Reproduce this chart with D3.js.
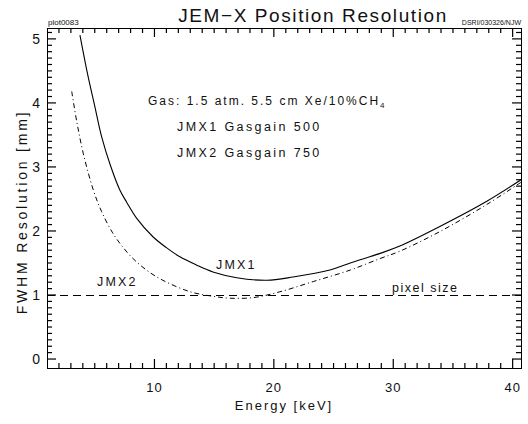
<!DOCTYPE html>
<html>
<head>
<meta charset="utf-8">
<script src="https://cdn.jsdelivr.net/npm/d3@7"></script>
<style>
  body { margin: 0; background: #fff; }
  svg text { font-family: "Liberation Sans", Arial, sans-serif; fill: #111; }
</style>
</head>
<body>
<svg id="chart" width="528" height="424"></svg>
<script>
// Energy [keV] and FWHM resolution [mm]
const jmx1Energy = [3.76, 4.4, 5.0, 5.58, 6.3, 7.1, 7.67, 8.5, 9.87, 11.0, 12.1, 13.5, 14.9, 16.9, 19.4, 21.6, 24.7, 26.4, 28.9, 30.5, 33.9, 37.8, 40.7];
const jmx1Res    = [5.06, 4.45, 3.95, 3.47, 3.03, 2.64, 2.45, 2.2, 1.91, 1.74, 1.60, 1.47, 1.36, 1.27, 1.23, 1.28, 1.39, 1.50, 1.65, 1.76, 2.07, 2.46, 2.8];

const jmx2Energy = [3.07, 3.5, 4.04, 4.88, 5.58, 6.5, 7.3, 8.2, 9.4, 10.7, 13.0, 14.9, 16.3, 18.3, 20.5, 23.3, 26.4, 28.9, 30.5, 33.9, 37.8, 40.7];
const jmx2Res    = [4.18, 3.7, 3.21, 2.64, 2.3, 1.97, 1.76, 1.57, 1.38, 1.23, 1.05, 0.98, 0.95, 0.96, 1.05, 1.21, 1.39, 1.57, 1.68, 1.99, 2.41, 2.76];

const pixelSize = 1;
const xTicks = [10, 20, 30, 40];
const yTicks = [0, 1, 2, 3, 4, 5];
const noteLines = ['JMX1 Gasgain 500', 'JMX2 Gasgain 750'];

const svg = d3.select('#chart');
const frame = { left: 47, right: 521, top: 28, bottom: 368 };

const x = d3.scaleLinear().domain([1, 40.7]).range([frame.left, frame.right]);
const y = d3.scaleLinear().domain([-0.14, 5.17]).range([frame.bottom, frame.top]);
const snap = v => Math.round(v) + 0.5;

svg.append('defs').append('clipPath').attr('id', 'plot-clip')
  .append('rect')
  .attr('x', frame.left).attr('y', frame.top)
  .attr('width', frame.right - frame.left)
  .attr('height', frame.bottom - frame.top);

// Tick marks on all four sides (IDL box style), drawn inward as thin filled rects
const minorX = d3.range(2, 41).filter(d => d % 10 !== 0);
const minorY = d3.range(0, 52).map(d => d / 10).filter(d => Math.round(d * 10) % 10 !== 0);
const xTickData = minorX.map(v => [v, 5]).concat(xTicks.map(v => [v, 9]));
const yTickData = minorY.map(v => [v, 5]).concat(yTicks.map(v => [v, 9]));

const tickG = svg.append('g').attr('fill', '#000');
const tw = 1.2;

tickG.selectAll('rect.xb').data(xTickData).join('rect').attr('class', 'xb')
  .attr('x', d => x(d[0]) - tw / 2).attr('width', tw)
  .attr('y', d => frame.bottom - d[1]).attr('height', d => d[1]);
tickG.selectAll('rect.xt').data(xTickData).join('rect').attr('class', 'xt')
  .attr('x', d => x(d[0]) - tw / 2).attr('width', tw)
  .attr('y', frame.top).attr('height', d => d[1]);
tickG.selectAll('rect.yl').data(yTickData).join('rect').attr('class', 'yl')
  .attr('y', d => y(d[0]) - tw / 2).attr('height', tw)
  .attr('x', frame.left).attr('width', d => d[1]);
tickG.selectAll('rect.yr').data(yTickData).join('rect').attr('class', 'yr')
  .attr('y', d => y(d[0]) - tw / 2).attr('height', tw)
  .attr('x', d => frame.right - d[1]).attr('width', d => d[1]);

// Tick labels
svg.selectAll('text.xlab').data(xTicks).join('text').attr('class', 'xlab')
  .attr('x', d => x(d)).attr('y', 392)
  .attr('text-anchor', 'middle').attr('font-size', 13).attr('letter-spacing', 1)
  .text(d => d);
svg.selectAll('text.ylab').data(yTicks).join('text').attr('class', 'ylab')
  .attr('x', 40).attr('y', d => y(d)).attr('dy', '0.36em')
  .attr('text-anchor', 'end').attr('font-size', 14)
  .text(d => d);

svg.append('rect')
  .attr('x', frame.left + 0.5).attr('y', frame.top + 0.5)
  .attr('width', frame.right - frame.left)
  .attr('height', frame.bottom - frame.top)
  .attr('fill', 'none').attr('stroke', '#000').attr('stroke-width', 1);

const line = d3.line().curve(d3.curveCatmullRom.alpha(0.5))
  .x(d => x(d[0])).y(d => y(d[1]));

const plot = svg.append('g').attr('clip-path', 'url(#plot-clip)');

// pixel size reference
plot.append('line')
  .attr('x1', frame.left).attr('x2', frame.right)
  .attr('y1', snap(y(pixelSize))).attr('y2', snap(y(pixelSize)))
  .attr('stroke', '#000').attr('stroke-width', 1)
  .attr('stroke-dasharray', '8,5');

plot.append('path')
  .datum(d3.zip(jmx1Energy, jmx1Res))
  .attr('d', line)
  .attr('fill', 'none').attr('stroke', '#000').attr('stroke-width', 1.1);

plot.append('path')
  .datum(d3.zip(jmx2Energy, jmx2Res))
  .attr('d', line)
  .attr('fill', 'none').attr('stroke', '#000').attr('stroke-width', 1)
  .attr('stroke-dasharray', '5,3,1,3');

// Titles and annotations
svg.append('text').attr('x', 313).attr('y', 22).attr('text-anchor', 'middle')
  .attr('font-size', 19).attr('letter-spacing', 1.6)
  .text('JEM\u2212X Position Resolution');
svg.append('text').attr('x', 48).attr('y', 25).attr('font-size', 8).text('plot0083');
svg.append('text').attr('x', 521).attr('y', 25).attr('text-anchor', 'end')
  .attr('font-size', 7).text('DSRI/030326/NJW');

svg.append('text').attr('x', 284).attr('y', 410).attr('text-anchor', 'middle')
  .attr('font-size', 13).attr('letter-spacing', 2)
  .text('Energy [keV]');
svg.append('text')
  .attr('transform', 'translate(27,212) rotate(-90)')
  .attr('text-anchor', 'middle').attr('font-size', 14).attr('letter-spacing', 2.8)
  .text('FWHM Resolution [mm]');

const gas = svg.append('text').attr('x', 148).attr('y', 105)
  .attr('font-size', 12).attr('letter-spacing', 2);
gas.append('tspan').text('Gas: 1.5 atm. 5.5 cm Xe/10%CH');
gas.append('tspan').attr('font-size', 8).attr('dy', 3).text('4');

svg.selectAll('text.note')
  .data(noteLines)
  .join('text')
  .attr('class', 'note')
  .attr('x', 177)
  .attr('y', (d, i) => 131 + i * 26)
  .attr('font-size', 12.5).attr('letter-spacing', 2.4)
  .text(d => d);

svg.append('text').attr('x', 216).attr('y', 269).attr('font-size', 12.5)
  .attr('letter-spacing', 2.2).text('JMX1');
svg.append('text').attr('x', 97).attr('y', 286).attr('font-size', 12.5)
  .attr('letter-spacing', 2.2).text('JMX2');
svg.append('text').attr('x', 392).attr('y', 292).attr('font-size', 12.5)
  .attr('letter-spacing', 1.5).text('pixel size');
</script>
</body>
</html>
